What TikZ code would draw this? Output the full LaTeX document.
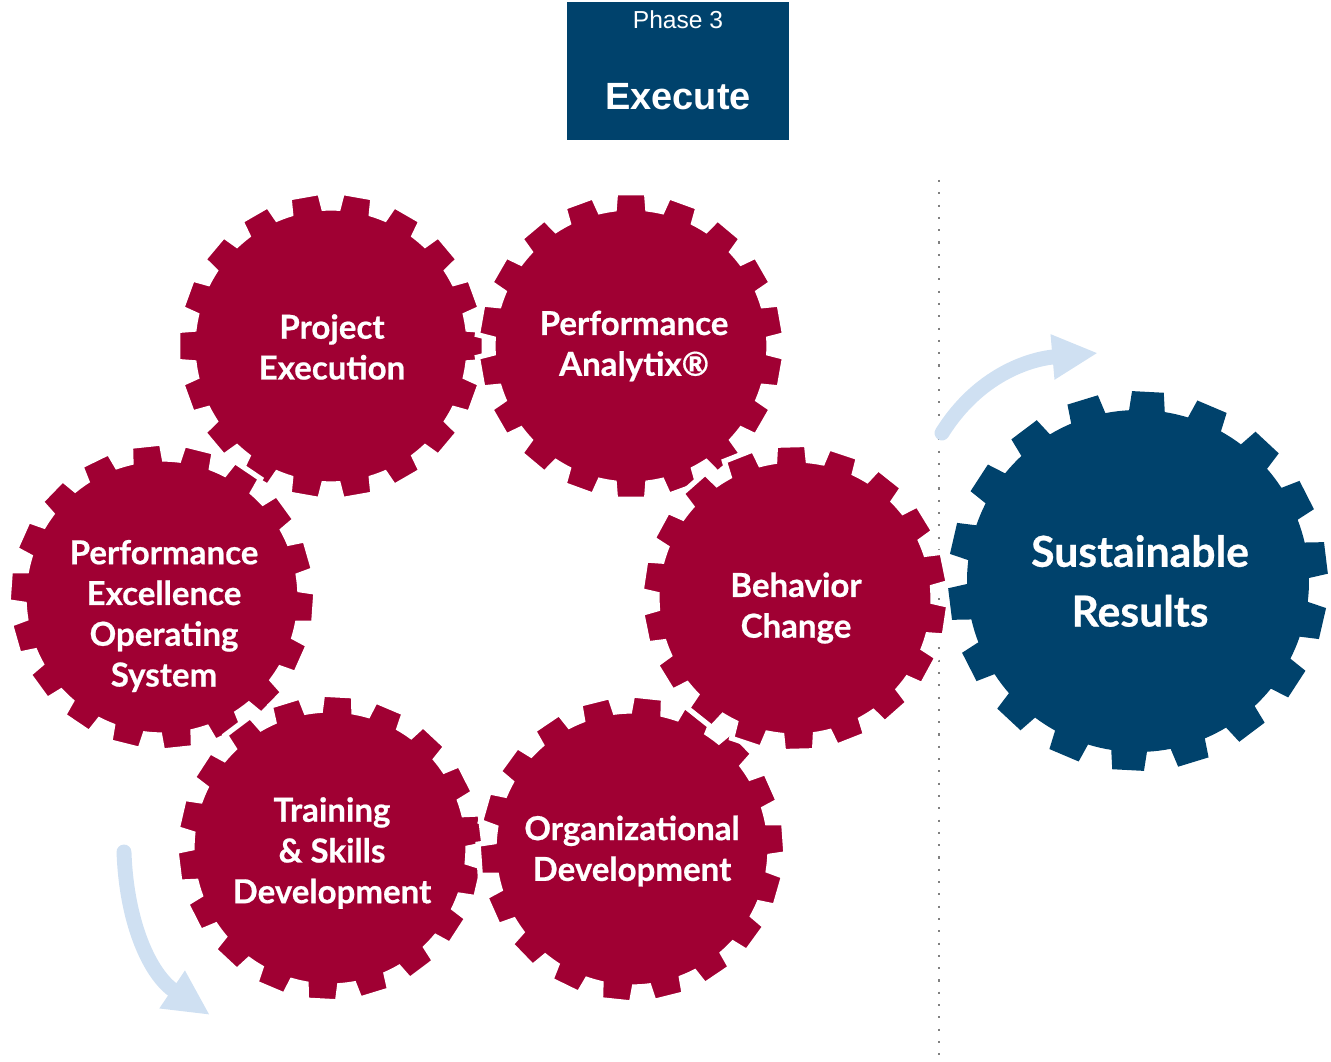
\documentclass[tikz,border=0pt]{standalone}
\usepackage{fontspec}
\setmainfont{Liberation Sans}
\newfontfamily\latofont{Lato}[BoldFeatures = {FakeBold = 0.6}]
\usetikzlibrary{arrows.meta}

\definecolor{gearred}{HTML}{A00033}
\definecolor{gearblue}{HTML}{00426C}
\definecolor{arrowblue}{HTML}{CFE0F2}

% 歯車: スタイル, 中心, 歯先半径, 歯底半径, 位相, 歯先半角, 歯底半角
\newcommand{\drawgear}[7]{%
  \path[#1, shift = {(#2)}] ({#5 - #7}:#4)
    \foreach \k [evaluate = \k as \a using #5 + 20*\k] in {0,...,17}{
      -- ({\a - #7}:#4) -- ({\a - #6}:#3) -- ({\a + #6}:#3) -- ({\a + #7}:#4)
      arc[start angle = \a + #7, end angle = \a + 20 - #7, radius = #4]
    } -- cycle;
}

\tikzset{
  redgear/.style = {fill = gearred, draw = white, line width = 3pt, line join = miter},
  bluegear/.style = {fill = gearblue},
  geartext/.style = {text = white, align = center,
    font = \latofont\bfseries\fontsize{18.8}{23.2}\selectfont},
  bigtext/.style = {text = white, align = center,
    font = \latofont\bfseries\fontsize{24.3}{34}\selectfont},
  turnarrow/.style = {arrowblue, line width = 8.5pt, line cap = round,
    -{Triangle[length = 26pt, width = 24pt]}}
}

\begin{document}
\begin{tikzpicture}[x = 0.02cm, y = 0.02cm]
  \useasboundingbox (0, 0) rectangle (1331, 1061);

  % 見出し
  \fill[gearblue] (567, 921) rectangle (789, 1059);
  \node[text = white, anchor = base, font = \fontsize{14}{16}\selectfont] (phase) at (678, 1032) {Phase 3};
  \node[text = white, anchor = base, font = \bfseries\fontsize{21.6}{26}\selectfont] (execute) at (678, 951) {Execute};

  % 点線
  \draw[gray, line width = 1.2pt, dash pattern = on 1.2pt off 5.8pt] (939, 881) -- (939, 0);

  % 矢印
  \coordinate (a1s) at (942, 628);
  \coordinate (a1e) at (1098, 708);
  \draw[turnarrow] (a1s) to[out = 58, in = 185] (a1e);
  \coordinate (a2s) at (124, 209);
  \coordinate (a2e) at (210, 46);
  \draw[turnarrow] (a2s) to[out = -88, in = 146] (a2e);

  % 赤い歯車
  \drawgear{redgear}{331, 715}{154}{138}{0}{5.8}{7}
  \drawgear{redgear}{162, 464}{154}{138}{-4}{5.8}{7}
  \drawgear{redgear}{330, 213}{154}{138}{7}{5.8}{7}
  \drawgear{redgear}{632, 212}{154}{138}{4}{5.8}{7}
  \drawgear{redgear}{631, 715}{154}{138}{10}{5.8}{7}
  \drawgear{redgear}{795, 463}{154}{138}{11.5}{5.8}{7}

  % 青い歯車
  \drawgear{bluegear}{1138, 480}{190}{171}{7}{4.8}{6}

  % ラベル
  \node[geartext] (pe) at (332, 714) {Project\\Execution};
  \node[geartext] (pa) at (634, 715) {Performance\\Analytix®};
  \node[geartext] (peos) at (164, 445) {Performance\\Excellence\\Operating\\System};
  \node[geartext] (bc) at (796, 453) {Behavior\\Change};
  \node[geartext] (tsd) at (332, 208) {Training\\\& Skills\\Development};
  \node[geartext] (od) at (632, 210) {Organizational\\Development};
  \node[bigtext] (sr) at (1140, 480) {Sustainable\\Results};
\end{tikzpicture}
\end{document}
